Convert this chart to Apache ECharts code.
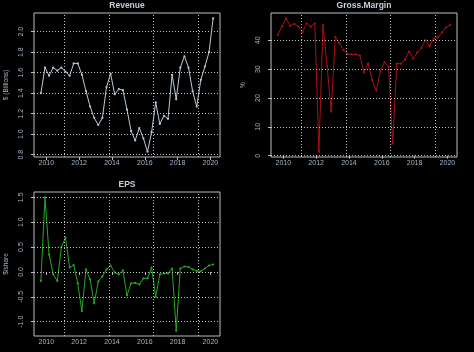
<!DOCTYPE html>
<html><head><meta charset="utf-8">
<script src="https://cdn.jsdelivr.net/npm/echarts@6/dist/echarts.min.js"></script>
<style>html,body{margin:0;padding:0;background:#000;} #c{width:474px;height:352px;}</style>
</head><body><div id="c"></div>
<script>
const quarters = ['2009-09','2009-12',
 '2010-03','2010-06','2010-09','2010-12','2011-03','2011-06','2011-09','2011-12',
 '2012-03','2012-06','2012-09','2012-12','2013-03','2013-06','2013-09','2013-12',
 '2014-03','2014-06','2014-09','2014-12','2015-03','2015-06','2015-09','2015-12',
 '2016-03','2016-06','2016-09','2016-12','2017-03','2017-06','2017-09','2017-12',
 '2018-03','2018-06','2018-09','2018-12','2019-03','2019-06','2019-09','2019-12',
 '2020-03'];
const revenue = [1.40,1.65,1.57,1.65,1.62,1.65,1.61,1.57,1.69,1.69,
 1.58,1.42,1.27,1.16,1.09,1.16,1.46,1.59,1.39,1.44,
 1.43,1.24,1.03,0.94,1.06,0.96,0.83,1.02,1.31,1.10,
 1.18,1.15,1.58,1.34,1.65,1.76,1.65,1.42,1.27,1.53,
 1.66,1.80,2.13];
const grossMargin = [41.9,44.8,47.6,45.0,45.7,44.8,42.8,45.9,44.7,45.9,
 1.4,45.3,31.0,15.3,41.2,39.0,36.6,35.2,35.1,35.1,
 34.7,28.8,31.9,26.2,22.5,29.4,32.4,30.7,4.2,31.9,
 31.9,33.3,36.2,33.6,35.8,37.3,40.1,37.9,40.6,41.0,
 42.7,44.4,45.3];
const eps = [-0.18,1.50,0.35,-0.05,-0.18,0.50,0.69,0.09,0.14,-0.23,
 -0.79,0.05,-0.15,-0.63,-0.19,-0.09,0.05,0.13,-0.01,-0.05,
 0.03,-0.47,-0.23,-0.22,-0.25,-0.13,-0.13,0.09,-0.50,-0.05,
 -0.03,-0.03,0.07,-1.18,0.07,0.11,0.10,0.05,0.02,0.01,
 0.07,0.13,0.15];
const xTickYears = [2010,2012,2014,2016,2018,2020];
const gridDays = [15000,16000,17000,18000];
const revenueTicks = [0.8,1.0,1.2,1.4,1.6,1.8,2.0];
const marginTicks = [0,10,20,30,40];
const epsTicks = [-1.0,-0.5,0.0,0.5,1.0,1.5];

function toYear(s){ const p=s.split('-').map(Number); return p[0]+(p[1]-1)/12; }
function dayToYear(d){ const t=d*86400000; const y=new Date(t).getUTCFullYear();
  const a=Date.UTC(y,0,1), b=Date.UTC(y+1,0,1); return y+(t-a)/(b-a); }
function pad(arr){ const lo=Math.min(...arr), hi=Math.max(...arr), r=hi-lo; return [lo-0.04*r, hi+0.04*r]; }

const xs = quarters.map(toYear);
const xr = pad(xs);
const gridX = gridDays.map(dayToYear);

const LABEL='#a3b6ca', TITLE='#bfcfdf', BOX='#bdbdbd', GRID='#c4c4c4';
const FONT='"Liberation Sans", Arial, sans-serif';
const W=186, H=144;

const panels = [
 {title:'Revenue', values:revenue, ticks:revenueTicks, dec:1, yName:'$ (Billions)', color:'#b9cadb', left:34, top:13},
 {title:'Gross.Margin', values:grossMargin, ticks:marginTicks, dec:0, yName:'%', color:'#a8101a', left:271, top:13},
 {title:'EPS', values:eps, ticks:epsTicks, dec:1, yName:'$/share', color:'#25a825', left:34, top:192}
];

const option = {
  backgroundColor:'#000', animation:false,
  grid:[], xAxis:[], yAxis:[], series:[], graphic:[]
};
panels.forEach((p,i)=>{
  option.grid.push({left:p.left, top:p.top, width:W, height:H, show:true,
    borderColor:BOX, borderWidth:1, backgroundColor:'transparent', containLabel:false});
  option.xAxis.push({type:'value', gridIndex:i, min:xr[0], max:xr[1],
    axisLine:{show:false}, splitLine:{show:false},
    axisTick:{show:true, customValues:xTickYears, length:3, lineStyle:{color:BOX}},
    axisLabel:{customValues:xTickYears, formatter:v=>String(Math.round(v)), color:LABEL,
      fontSize:7, fontFamily:FONT, margin:3}});
  const yr = pad(p.values);
  option.yAxis.push({type:'value', gridIndex:i, min:yr[0], max:yr[1],
    axisLine:{show:false}, splitLine:{show:false},
    axisTick:{show:true, customValues:p.ticks, length:3, lineStyle:{color:BOX}},
    axisLabel:{customValues:p.ticks, formatter:v=>v.toFixed(p.dec), color:LABEL,
      fontSize:7, fontFamily:FONT, rotate:90, margin:9}});
  option.series.push({type:'line', xAxisIndex:i, yAxisIndex:i,
    data:xs.map((x,k)=>[x,p.values[k]]),
    symbol:'circle', symbolSize:2.2, showSymbol:true,
    lineStyle:{color:p.color, width:1}, itemStyle:{color:p.color},
    emphasis:{disabled:true}, silent:true,
    markLine:{silent:true, symbol:'none', label:{show:false}, animation:false,
      lineStyle:{color:GRID, type:[1,2], width:1},
      emphasis:{disabled:true},
      data:[...gridX.map(v=>({xAxis:v})), ...p.ticks.map(v=>({yAxis:v}))]}});
  option.graphic.push({type:'text', x:p.left+W/2, y:p.top-7.5,
    style:{text:p.title, fill:TITLE, font:'bold 8.5px '+FONT, align:'center', verticalAlign:'middle'}});
  option.graphic.push({type:'text', x:p.left-28, y:p.top+H/2, rotation:Math.PI/2,
    style:{text:p.yName, fill:LABEL, font:'6.5px '+FONT, align:'center', verticalAlign:'middle'}});
});
const chart = echarts.init(document.getElementById('c'), null, {renderer:'canvas'});
chart.setOption(option);
</script>
</body></html>
